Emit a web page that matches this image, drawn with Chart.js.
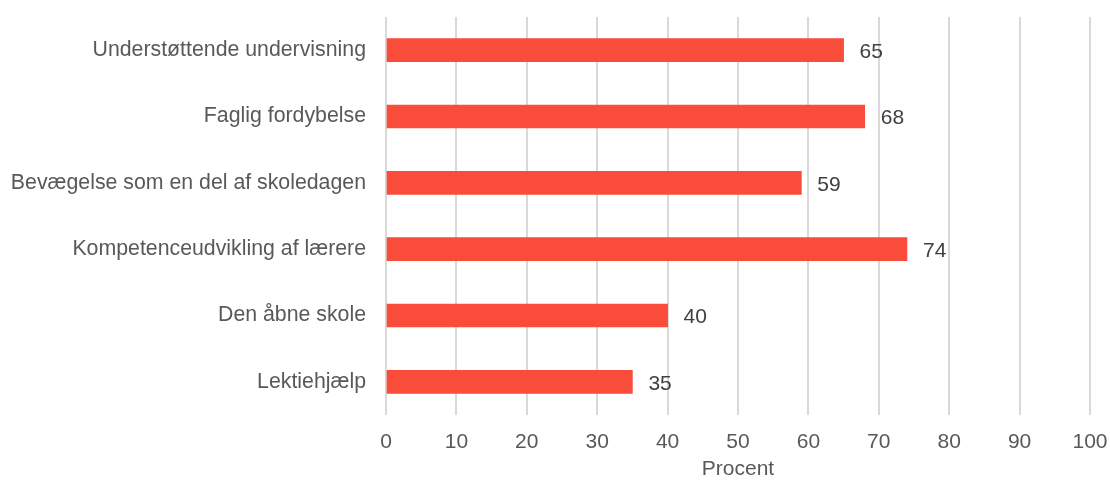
<!DOCTYPE html>
<html>
<head>
<meta charset="utf-8">
<script src="https://cdn.jsdelivr.net/npm/chart.js@4"></script>
<style>
  body { margin: 0; background: #fff; }
  #wrap { width: 1110px; height: 482px; }
</style>
</head>
<body>
<div id="wrap"><canvas id="barChart"></canvas></div>
<script>
const categories = [
  "Understøttende undervisning",
  "Faglig fordybelse",
  "Bevægelse som en del af skoledagen",
  "Kompetenceudvikling af lærere",
  "Den åbne skole",
  "Lektiehjælp"
];
const values = [65, 68, 59, 74, 40, 35];
const xTicks = [0, 10, 20, 30, 40, 50, 60, 70, 80, 90, 100];

const font = "'Liberation Sans', Arial, sans-serif";

// tal ved enden af hver bjælke
const valueLabels = {
  id: "valueLabels",
  afterDatasetsDraw(chart) {
    const ctx = chart.ctx;
    const meta = chart.getDatasetMeta(0);
    ctx.save();
    ctx.font = "21px " + font;
    ctx.fillStyle = "#404040";
    ctx.textBaseline = "middle";
    ctx.textAlign = "left";
    meta.data.forEach((bar, i) => {
      ctx.fillText(values[i], bar.x + 16, bar.y + 2);
    });
    ctx.restore();
  }
};

new Chart(document.getElementById("barChart"), {
  type: "bar",
  data: {
    labels: categories,
    datasets: [{
      data: values,
      backgroundColor: "#F94C3B",
      barThickness: 23,
      borderWidth: 0
    }]
  },
  options: {
    indexAxis: "y",
    responsive: true,
    maintainAspectRatio: false,
    animation: false,
    layout: { padding: { top: 17, right: 20, left: 0, bottom: 0 } },
    plugins: { legend: { display: false }, tooltip: { enabled: false } },
    scales: {
      x: {
        min: 0,
        max: 100,
        afterBuildTicks: (scale) => { scale.ticks = xTicks.map(v => ({ value: v })); },
        afterFit: (scale) => {
          scale.height = 67;
          scale.paddingLeft = 0;
          scale.paddingRight = 0;
        },
        grid: { color: "#d9d9d9", lineWidth: 2, drawTicks: false },
        border: { display: false },
        ticks: { color: "#595959", font: { family: font, size: 21 }, padding: 15 },
        title: {
          display: true,
          text: "Procent",
          color: "#595959",
          font: { family: font, size: 21 },
          padding: { top: 7, bottom: 0 }
        }
      },
      y: {
        afterFit: (scale) => {
          scale.width = 386;
          scale.paddingTop = 0;
          scale.paddingBottom = 0;
        },
        grid: { display: false },
        border: { display: false },
        ticks: {
          color: "#595959",
          font: { family: font, size: 21.3 },
          padding: 12,
          z: 1
        }
      }
    }
  },
  plugins: [valueLabels]
});
</script>
</body>
</html>
